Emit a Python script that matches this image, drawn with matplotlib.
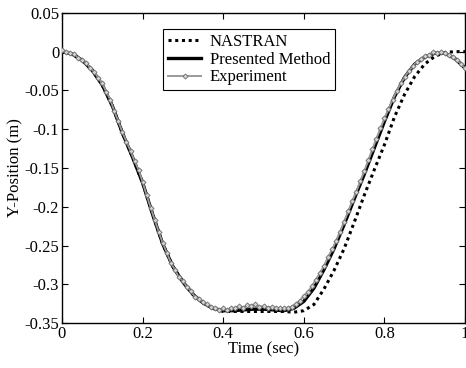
import matplotlib
matplotlib.use('Agg')
import matplotlib.pyplot as plt

plt.rcParams['font.family'] = ['Liberation Serif', 'DejaVu Serif']

# data
t_model = [0.000, 0.025, 0.050, 0.075, 0.100, 0.125, 0.150, 0.175, 0.200, 0.225,
           0.250, 0.275, 0.300, 0.325, 0.350, 0.375, 0.400, 0.425, 0.450, 0.475,
           0.500, 0.525, 0.550, 0.575, 0.600, 0.625, 0.650, 0.675, 0.700, 0.725,
           0.750, 0.775, 0.800, 0.825, 0.850, 0.875, 0.900, 0.925, 0.950, 0.975, 1.000]

presented = [0.000, -0.003, -0.011, -0.024, -0.043, -0.070, -0.105, -0.136, -0.169, -0.210,
             -0.248, -0.277, -0.297, -0.313, -0.324, -0.331, -0.334, -0.334, -0.333, -0.332,
             -0.332, -0.333, -0.334, -0.331, -0.322, -0.305, -0.281, -0.254, -0.223, -0.190,
             -0.158, -0.124, -0.090, -0.058, -0.033, -0.016, -0.007, -0.002, -0.002, -0.009, -0.021]

nastran = [0.000, -0.003, -0.011, -0.024, -0.043, -0.070, -0.105, -0.136, -0.169, -0.210,
           -0.248, -0.277, -0.297, -0.313, -0.324, -0.331, -0.335, -0.335, -0.335, -0.335,
           -0.335, -0.335, -0.335, -0.336, -0.334, -0.326, -0.306, -0.282, -0.254, -0.220,
           -0.185, -0.152, -0.120, -0.084, -0.055, -0.032, -0.016, -0.006, -0.001, 0.000, 0.000]

t_exp = [i / 100 for i in range(101)]
experiment = [0.002, 0.000, -0.002, -0.003, -0.008, -0.011, -0.014, -0.021, -0.026, -0.034,
              -0.041, -0.052, -0.062, -0.077, -0.090, -0.104, -0.116, -0.128, -0.141, -0.152,
              -0.168, -0.185, -0.201, -0.217, -0.232, -0.247, -0.259, -0.272, -0.281, -0.291,
              -0.296, -0.303, -0.309, -0.316, -0.319, -0.323, -0.326, -0.329, -0.331, -0.333,
              -0.331, -0.333, -0.330, -0.331, -0.328, -0.330, -0.327, -0.328, -0.326, -0.329,
              -0.328, -0.330, -0.329, -0.331, -0.330, -0.331, -0.330, -0.329, -0.325, -0.321,
              -0.315, -0.310, -0.302, -0.294, -0.285, -0.276, -0.265, -0.255, -0.244, -0.232,
              -0.219, -0.206, -0.193, -0.181, -0.167, -0.154, -0.140, -0.126, -0.112, -0.099,
              -0.086, -0.074, -0.062, -0.051, -0.041, -0.033, -0.025, -0.019, -0.013, -0.010,
              -0.006, -0.004, -0.001, -0.002, 0.000, -0.002, -0.004, -0.007, -0.011, -0.016, -0.021]

xticks = [0, 0.2, 0.4, 0.6, 0.8, 1]
xticklabels = ['0', '0.2', '0.4', '0.6', '0.8', '1']
yticks = [0.05, 0, -0.05, -0.1, -0.15, -0.2, -0.25, -0.3, -0.35]
yticklabels = ['0.05', '0', '-0.05', '-0.1', '-0.15', '-0.2', '-0.25', '-0.3', '-0.35']

fig = plt.figure(figsize=(4.66, 3.68), dpi=100)
ax = fig.add_axes([0.133, 0.122, 0.865, 0.843])

ax.plot(t_model, nastran, color='black', lw=2.2, dashes=(1, 1.2), label='NASTRAN', zorder=2)
ax.plot(t_model, presented, color='black', lw=2.4, label='Presented Method', zorder=3)
ax.plot(t_exp, experiment, color='#9a9a9a', lw=1.4, marker='D', ms=2.6,
        mfc='#d4d4d4', mec='#6a6a6a', mew=0.6, label='Experiment', zorder=4)

ax.set_xlim(0, 1)
ax.set_ylim(-0.35, 0.05)
ax.set_xticks(xticks)
ax.set_xticklabels(xticklabels)
ax.set_yticks(yticks)
ax.set_yticklabels(yticklabels)
ax.tick_params(direction='in', top=True, right=True, labelsize=12, length=4, width=0.8, pad=2)
for s in ax.spines.values():
    s.set_linewidth(1.0)

ax.set_xlabel('Time (sec)', fontsize=12, labelpad=0)
ax.set_ylabel('Y-Position (m)', fontsize=12, labelpad=1)

leg = ax.legend(loc='upper left', bbox_to_anchor=(0.251, 0.948), fontsize=12,
                frameon=True, fancybox=False, framealpha=1, edgecolor='black',
                handlelength=2.0, borderpad=0.3, labelspacing=0.1, handletextpad=0.5,
                borderaxespad=0)
leg.get_frame().set_linewidth(0.8)

fig.savefig('out.png', dpi=100)
